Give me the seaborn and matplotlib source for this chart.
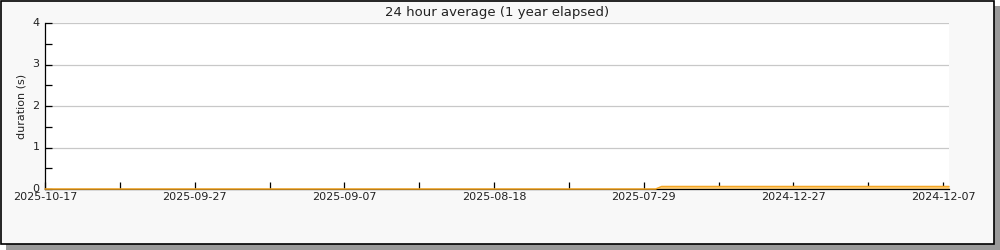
import matplotlib
matplotlib.use("Agg")
import matplotlib.pyplot as plt
import matplotlib.patches as mpatches
import matplotlib.transforms as mtransforms
import seaborn as sns
import pandas as pd
import numpy as np

sns.set_theme(style="white")
plt.rcParams['font.family'] = ['DejaVu Sans']

title = "24 hour average (1 year elapsed)"
y_label = "duration (s)"
tick_labels = ["2025-10-17", "", "2025-09-27", "", "2025-09-07", "", "2025-08-18", "",
               "2025-07-29", "", "2024-12-27", "", "2024-12-07"]
# sample positions (in tick units) and average durations (s)
positions = [0.0, 2.0, 4.0, 6.0, 8.0, 8.16, 8.24, 9.0, 10.0, 11.0, 12.0, 12.08]
durations = [0.0, 0.0, 0.0, 0.0, 0.0, 0.0, 0.06, 0.06, 0.06, 0.06, 0.06, 0.06]
y_ticks = [0, 1, 2, 3, 4]

df = pd.DataFrame({"pos": positions, "dur": durations})

fig = plt.figure(figsize=(10, 2.5), dpi=100)
fig.patch.set_facecolor("white")

# frame with shadow
shadow = mpatches.Rectangle((6 / 1000, 0), 994 / 1000, 244 / 250, transform=fig.transFigure,
                            facecolor="#9a9a9a", edgecolor="none", zorder=0)
frame = mpatches.Rectangle((0.5 / 1000, 6 / 250), 993 / 1000, 243.5 / 250, transform=fig.transFigure,
                           facecolor="#f8f8f8", edgecolor="black", linewidth=1.2, zorder=1)
fig.patches.extend([shadow, frame])

ax = fig.add_axes([45 / 1000, 1 - 189 / 250, 904 / 1000, 166 / 250])
ax.set_zorder(2)
ax.set_facecolor("white")

ax.fill_between(df["pos"], 0, df["dur"], color="#ffd27f", linewidth=0, zorder=2)
sns.lineplot(data=df, x="pos", y="dur", ax=ax, color="#f5a623", linewidth=1.1, zorder=5)
for ln in ax.lines:
    ln.set_clip_on(False)

ax.set_xlim(0, 12.08)
ax.set_ylim(0, 4)
ax.set_xticks(range(len(tick_labels)))
ax.set_xticklabels(tick_labels, fontsize=8, color="#222222")
ax.set_yticks(y_ticks)
ax.set_yticklabels([str(v) for v in y_ticks], fontsize=8, color="#222222")
ax.set_yticks(np.arange(0.5, 4, 1.0), minor=True)
ax.tick_params(axis="both", which="both", direction="in", length=5, width=0.9, color="black",
               bottom=True, left=True, top=False, right=False)
ax.tick_params(axis="x", which="major", pad=2)
ax.tick_params(axis="y", which="major", pad=4)
ax.grid(axis="y", color="#c8c8c8", linewidth=0.9)
ax.set_axisbelow(True)
for s in ["top", "right"]:
    ax.spines[s].set_visible(False)
for s in ["left", "bottom"]:
    ax.spines[s].set_color("black")
    ax.spines[s].set_linewidth(0.9)
    ax.spines[s].set_zorder(4)

# nudge y tick labels slightly upward so "0" clears the date label
shift = mtransforms.ScaledTranslation(0, 1.2 / 100, fig.dpi_scale_trans)
for lab in ax.get_yticklabels():
    lab.set_transform(lab.get_transform() + shift)

ax.set_xlabel("")
ax.set_ylabel(y_label, fontsize=8, color="#222222", labelpad=4)
ax.set_title(title, fontsize=9.5, color="#222222", pad=5)

fig.savefig("out.png", dpi=100, facecolor=fig.get_facecolor())
